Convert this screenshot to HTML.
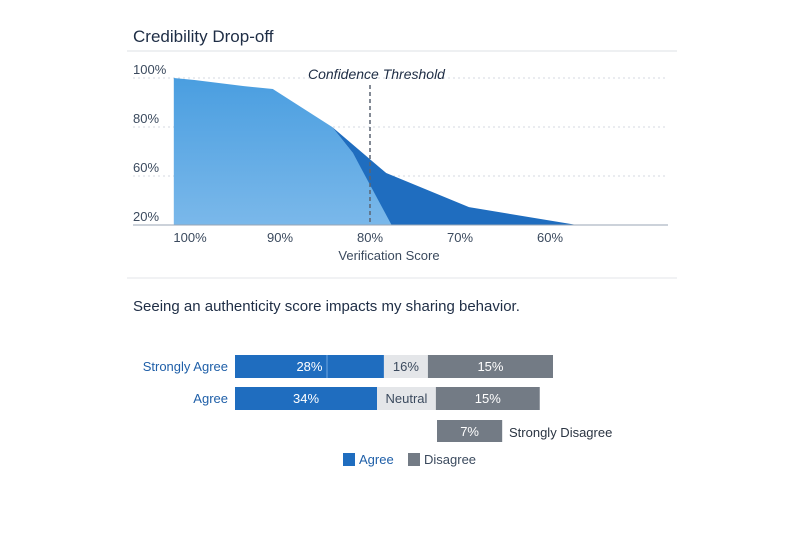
<!DOCTYPE html>
<html><head><meta charset="utf-8"><style>
body{margin:0;background:#fff;width:800px;height:533px;overflow:hidden;font-family:"Liberation Sans",sans-serif}
svg text{font-family:"Liberation Sans",sans-serif}
</style></head><body>
<svg id="c" width="800" height="533" viewBox="0 0 800 533">
<text x="133" y="42" font-size="17" fill="#1e2d45">Credibility Drop-off</text>
<line x1="127" y1="51" x2="677" y2="51" stroke="#dde1e6"/>
<g id="area"></g>
<line x1="127" y1="278" x2="677" y2="278" stroke="#e3e6ea"/>
<text x="133" y="311" font-size="15" fill="#1e2d45">Seeing an authenticity score impacts my sharing behavior.</text>
<g id="bars"></g>
</svg>
<script>
const yTickValues=[100,80,60,40];
const yTickLabels=["100%","80%","60%","20%"];
const xTickValues=[100,90,80,70,60];
const xTickLabels=["100%","90%","80%","70%","60%"];
const lightX=[101.8,99.5,94,90.8,84.2,81.9,77.6];
const lightY=[100,99.2,96.7,95.5,80,69.4,40.8];
const darkX=[84.2,78.2,69,57];
const darkY=[80,61.2,47.3,40];
const thresholdValue=80;
const rowLabels=["Strongly Agree","Agree",""];
const agreeVals=[28.1,26.8,0];
const neutralVals=[8.3,11.1,0];
const disagreeVals=[23.6,19.6,12.3];
const agreeText=["28%","34%",""];
const neutralText=["16%","Neutral",""];
const disagreeText=["15%","15%","7%"];
const NS="http://www.w3.org/2000/svg";
function mk(p,t,a){const e=document.createElementNS(NS,t);for(const k in a)e.setAttribute(k,a[k]);p.appendChild(e);return e;}
const xs=v=>190+(100-v)*9, ys=v=>78+(100-v)*2.45;
const g=document.getElementById('area');
const defs=mk(g,'defs',{});
const lg=mk(defs,'linearGradient',{id:'lg',x1:0,y1:0,x2:0,y2:1});
mk(lg,'stop',{offset:0,'stop-color':'#4a9ee0'});mk(lg,'stop',{offset:1,'stop-color':'#7ab8ea'});
yTickValues.forEach((v,i)=>{
 if(i<3){const l=mk(g,'line',{x1:133,x2:668,y1:ys(v),y2:ys(v),stroke:'#d5dae0','stroke-dasharray':'2 3'});
 
 }
 const t=mk(g,'text',{x:133,y:ys(v)-4,'font-size':13,fill:'#3b4a5e'});t.textContent=yTickLabels[i];
 
 
});
let pts=lightX.map((x,i)=>xs(x)+','+ys(lightY[i]));pts.push(xs(lightX[lightX.length-1])+','+ys(40),xs(lightX[0])+','+ys(40));
const pl=mk(g,'polygon',{points:pts.join(' '),fill:'url(#lg)'});


let dp=darkX.map((x,i)=>xs(x)+','+ys(darkY[i]));dp.push(xs(lightX[lightX.length-1])+','+ys(40));
dp.push(xs(lightX[5])+','+ys(lightY[5]));
const pd=mk(g,'polygon',{points:dp.join(' '),fill:'#1f6dbf'});


const ax=mk(g,'line',{x1:133,x2:668,y1:ys(40),y2:ys(40),stroke:'#9aa6b4'});


const th=mk(g,'line',{x1:xs(thresholdValue),x2:xs(thresholdValue),y1:85,y2:ys(40),stroke:'#5a6472','stroke-dasharray':'4 3','stroke-width':1.5});


const tt=mk(g,'text',{x:308,y:79,'font-size':14,'font-style':'italic',fill:'#1e2d45'});tt.textContent='Confidence Threshold';


xTickValues.forEach((v,i)=>{const t=mk(g,'text',{x:xs(v),y:242,'font-size':13,fill:'#3b4a5e','text-anchor':'middle'});t.textContent=xTickLabels[i];
 
 });
const xt=mk(g,'text',{x:389,y:260,'font-size':13,fill:'#3b4a5e','text-anchor':'middle'});xt.textContent='Verification Score';


const b=document.getElementById('bars');const px=5.3;
const rowY=[355,387,420],rowH=[23,23,22];
rowLabels.forEach((lab,i)=>{
 if(lab){const t=mk(b,'text',{x:228,y:rowY[i]+16,'font-size':13,fill:'#1f5fa8','text-anchor':'end'});t.textContent=lab;
 
 }
 let x0=i==2?437:235;
 const segs=[[agreeVals[i],'#1f6dbf',agreeText[i],'#fff','agree-bar'],[neutralVals[i],'#e4e6e9',neutralText[i],'#3b4a5e','neutral-bar'],[disagreeVals[i],'#737b85',disagreeText[i],'#fff','disagree-bar']];
 segs.forEach(s=>{if(!s[0])return;const w=s[0]*px;
  const r=mk(b,'rect',{x:x0,y:rowY[i],width:w,height:rowH[i],fill:s[1]});
  
  
  const t=mk(b,'text',{x:x0+w/2,y:rowY[i]+16,'font-size':13,fill:s[3],'text-anchor':'middle'});t.textContent=s[2];
  
  
  x0+=w;});
});
mk(b,'line',{x1:327,x2:327,y1:355,y2:378,stroke:'#6fa8e0'});
const sd=mk(b,'text',{x:509,y:437,'font-size':13,fill:'#2a3442'});sd.textContent='Strongly Disagree';


[[343,'#1f6dbf','Agree','#1f5fa8','legend-agree'],[408,'#737b85','Disagree','#3b4a5e','legend-disagree']].forEach(l=>{
 const r=mk(b,'rect',{x:l[0],y:453,width:12,height:13,fill:l[1]});
 
 
 const t=mk(b,'text',{x:l[0]+16,y:464,'font-size':13,fill:l[3]});t.textContent=l[2];
 
 
});
</script>
</body></html>
